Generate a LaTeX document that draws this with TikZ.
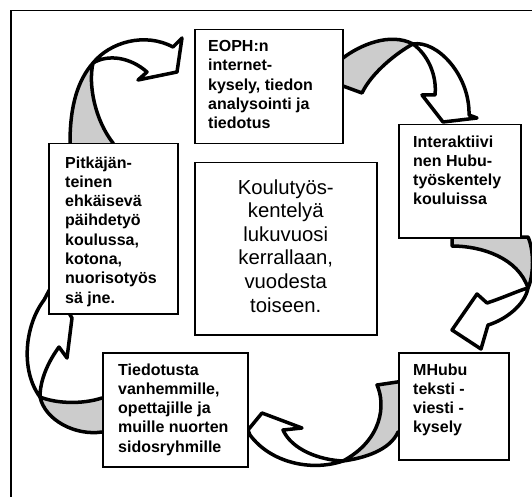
\documentclass[tikz,border=0pt]{standalone}
\usepackage{fontspec}
\setmainfont{Liberation Sans}
\usepackage{xcolor}
\definecolor{ribbonGray}{RGB}{204, 204, 204}

\begin{document}
\begin{tikzpicture}[
    x=1pt, y=-1pt,
    stage/.style={rectangle, draw=black, fill=white, line width=1.5pt, anchor=north west, inner sep=0pt},
    stagetext/.style={anchor=north west, align=left, inner sep=0pt, font=\fontsize{16}{19.3}\selectfont\bfseries},
    centertext/.style={align=center, inner sep=0pt, font=\fontsize{20.3}{23.6}\selectfont},
    ribbonback/.style={draw=black, fill=ribbonGray, line width=3.5pt, line join=round},
    ribbonfront/.style={draw=black, fill=white, line width=3.5pt, line join=round},
    frame/.style={draw=black, line width=1.2pt},
]
\useasboundingbox (0,0) rectangle (532,497);
% FRAME
\draw[frame] (11,505) -- (11,10.5) -- (540,10.5);
% ARROW: long-term work -> survey
\draw[ribbonback] (70,150) -- (70,143) .. controls (70,105) and (78,80) .. (93,63) .. controls (88,85) and (95,120) .. (113,143) -- (113,150) -- cycle;
\draw[ribbonfront] (93,63) .. controls (110,42) and (145,32) .. (173,47) -- (182,38) -- (177,72) -- (138,80) -- (147,72) .. controls (130,57) and (108,54) .. (93,63) -- cycle;
% ARROW: survey -> workshop
\draw[ribbonback] (335,58) -- (343,58) .. controls (360,45) and (390,32) .. (413,44) .. controls (398,52) and (372,72) .. (362,93) -- (343,86) -- (335,86) -- cycle;
\draw[ribbonfront] (413,44) .. controls (437,40) and (470,75) .. (469,115) -- (477,118) -- (443,122) -- (422,95) -- (435,95) .. controls (437,75) and (428,55) .. (413,44) -- cycle;
% ARROW: workshop -> text message survey
\draw[ribbonback] (452,230) -- (452,246) .. controls (482,246) and (518,258) .. (528,288) .. controls (534,275) and (534,250) .. (528,237) -- (520,237) -- (520,230) -- cycle;
\draw[ribbonfront] (528,288) .. controls (525,305) and (505,320) .. (488,325) -- (481,349) -- (452,330) -- (477,294) -- (487,303) .. controls (505,297) and (520,290) .. (528,288) -- cycle;
% ARROW: text message survey -> information
\draw[ribbonback] (404,381) -- (377,385) .. controls (386,405) and (382,440) .. (343,461) .. controls (365,458) and (390,450) .. (398,432) -- (404,432) -- cycle;
\draw[ribbonfront] (343,461) .. controls (310,472) and (270,462) .. (250,435) -- (248,430) -- (262,413) -- (302,428) -- (283,430) .. controls (292,450) and (320,460) .. (343,461) -- cycle;
% ARROW: information -> long-term work
\draw[ribbonback] (110,398) -- (102,398) .. controls (80,405) and (55,403) .. (40,397) .. controls (45,420) and (75,436) .. (102,432) -- (110,432) -- cycle;
\draw[ribbonfront] (40,397) .. controls (20,370) and (25,325) .. (44,300) -- (52,285) -- (72,318) -- (67,358) -- (59,347) .. controls (48,362) and (40,380) .. (40,397) -- cycle;
% BOXES
\node[stage, minimum width=148pt, minimum height=114pt] (topbox) at (194,29) {};
\node[stage, minimum width=122pt, minimum height=113pt] (rightbox) at (398,124) {};
\node[stage, minimum width=110pt, minimum height=107pt] (mhububox) at (398,352) {};
\node[stage, minimum width=145pt, minimum height=114pt] (infobox) at (102,352) {};
\node[stage, minimum width=129pt, minimum height=170pt] (longbox) at (48,143) {};
\node[stage, minimum width=182pt, minimum height=172pt] (centerbox) at (194,162) {};
% TEXTS
\node[stagetext] (toptext) at ([shift={(14,11.3)}]topbox.north west) {EOPH:n\\internet-\\kysely, tiedon\\analysointi ja\\tiedotus};
\node[stagetext] (righttext) at ([shift={(15,11.3)}]rightbox.north west) {Interaktiivi\\nen Hubu-\\työskentely\\kouluissa};
\node[stagetext] (mhubutext) at ([shift={(15,11.3)}]mhububox.north west) {MHubu\\teksti -\\viesti -\\kysely};
\node[stagetext] (infotext) at ([shift={(16,11.3)}]infobox.north west) {Tiedotusta\\vanhemmille,\\opettajille ja\\muille nuorten\\sidosryhmille};
\node[stagetext] (longtext) at ([shift={(17,13.3)}]longbox.north west) {Pitkäjän-\\teinen\\ehkäisevä\\päihdetyö\\koulussa,\\kotona,\\nuorisotyös\\sä jne.};
\node[centertext] (centertext) at ([shift={(0,-3)}]centerbox.center) {Koulutyös-\\kentelyä\\lukuvuosi\\kerrallaan,\\vuodesta\\toiseen.};
\end{tikzpicture}
\end{document}
